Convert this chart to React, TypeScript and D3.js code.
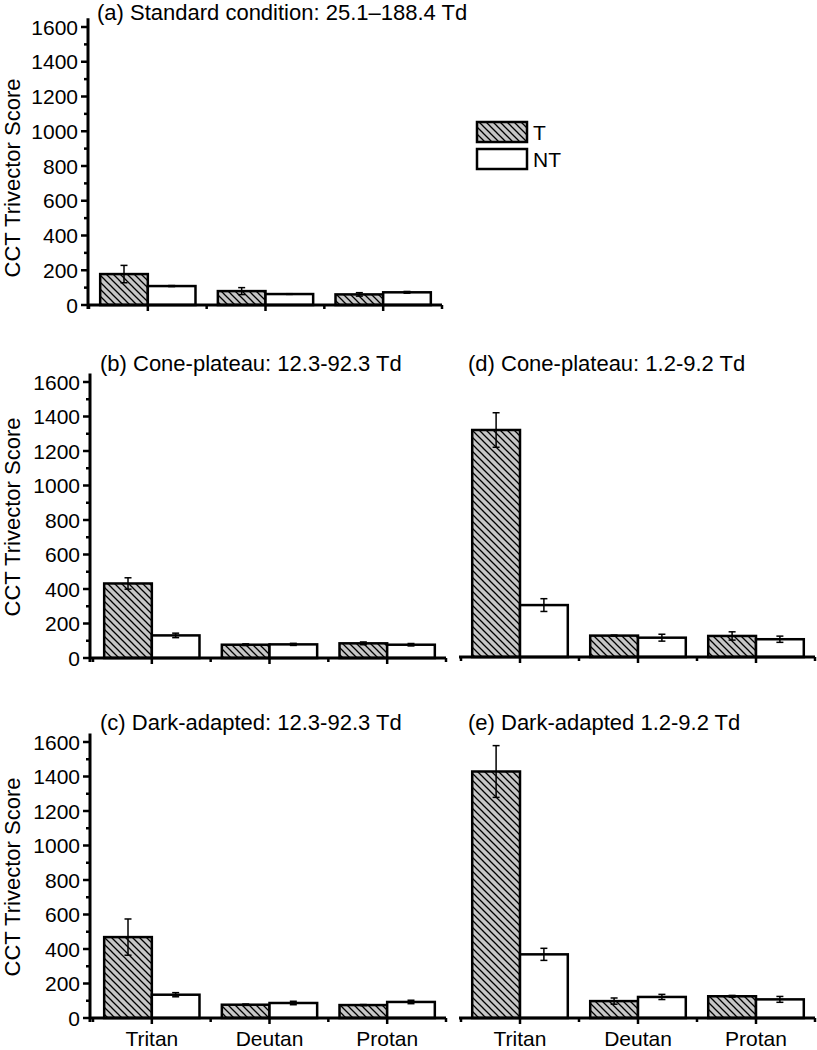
import React from 'react';
import * as d3 from 'd3';

const categories = ['Tritan', 'Deutan', 'Protan'];
const seriesNames = ['T', 'NT'];

// (a) Standard condition
const aT = [178, 80, 61];
const aTerr = [50, 20, 10];
const aNT = [109, 63, 73];
const aNTerr = [3, 2, 5];
// (b) Cone-plateau 12.3-92.3
const bT = [432, 77, 85];
const bTerr = [33, 5, 8];
const bNT = [131, 79, 77];
const bNTerr = [13, 6, 7];
// (c) Dark-adapted 12.3-92.3
const cT = [469, 77, 75];
const cTerr = [105, 4, 3];
const cNT = [135, 87, 93];
const cNTerr = [12, 10, 10];
// (d) Cone-plateau 1.2-9.2
const dT = [1316, 124, 122];
const dTerr = [100, 3, 24];
const dNT = [301, 112, 103];
const dNTerr = [37, 20, 18];
// (e) Dark-adapted 1.2-9.2
const eT = [1429, 98, 126];
const eTerr = [150, 18, 5];
const eNT = [369, 122, 108];
const eNTerr = [35, 15, 17];

const yTicks = [0, 200, 400, 600, 800, 1000, 1200, 1400, 1600];
const yMinorTicks = [100, 300, 500, 700, 900, 1100, 1300, 1500];

const titles = [
  '(a) Standard condition: 25.1\u2013188.4 Td',
  '(b) Cone-plateau: 12.3-92.3 Td',
  '(c) Dark-adapted: 12.3-92.3 Td',
  '(d) Cone-plateau: 1.2-9.2 Td',
  '(e) Dark-adapted 1.2-9.2 Td',
];

const panelData = [
  { T: aT, Terr: aTerr, NT: aNT, NTerr: aNTerr },
  { T: bT, Terr: bTerr, NT: bNT, NTerr: bNTerr },
  { T: cT, Terr: cTerr, NT: cNT, NTerr: cNTerr },
  { T: dT, Terr: dTerr, NT: dNT, NTerr: dNTerr },
  { T: eT, Terr: eTerr, NT: eNT, NTerr: eNTerr },
];

// layout (pixel geometry)
const layout = [
  { x0: 89, x1: 442, axisX: 88, zero: 305, top: 27, yAxis: true, xLabels: false, titleX: 97, titleY: 20, ylabY: 178 },
  { x0: 93, x1: 446, axisX: 90, zero: 658, top: 382, yAxis: true, xLabels: false, titleX: 100, titleY: 371, ylabY: 517 },
  { x0: 93, x1: 446, axisX: 90, zero: 1018, top: 742, yAxis: true, xLabels: true, titleX: 100, titleY: 730, ylabY: 877 },
  { x0: 461, x1: 815, axisX: 460, zero: 657, top: 381, yAxis: false, xLabels: false, titleX: 468, titleY: 371, ylabY: 0 },
  { x0: 461, x1: 815, axisX: 460, zero: 1018, top: 742, yAxis: false, xLabels: true, titleX: 468, titleY: 730, ylabY: 0 },
];

const FONT = "'Liberation Sans', Arial, Helvetica, sans-serif";

function Panel({ idx }: { idx: number }) {
  const L = layout[idx];
  const D = panelData[idx];
  const x = d3.scaleBand<string>().domain(categories).range([L.x0, L.x1]).padding(0);
  const step = x.step();
  const inner = d3.scaleBand<string>().domain(seriesNames).range([0, step * 0.81]).padding(0);
  const y = d3.scaleLinear().domain([0, 1600]).range([L.zero, L.top]);
  const yAxisTop = y(1650);
  const boundaries = d3.range(categories.length + 1).map((i) => L.x0 + i * step);

  return (
    <g>
      <text x={L.titleX} y={L.titleY} fontSize={22} fontFamily={FONT} fill="#000">
        {titles[idx]}
      </text>
      {categories.map((c, i) => {
        const center = (x(c) as number) + step / 2;
        const gx = center - step * 0.405;
        return seriesNames.map((s) => {
          const v = s === 'T' ? D.T[i] : D.NT[i];
          const e = s === 'T' ? D.Terr[i] : D.NTerr[i];
          const bx = gx + (inner(s) as number);
          const bw = inner.bandwidth();
          const cx = bx + bw / 2;
          return (
            <g key={c + s}>
              <rect
                x={bx}
                y={y(v)}
                width={bw}
                height={L.zero - y(v)}
                fill={s === 'T' ? 'url(#hatch)' : '#fff'}
                stroke="#000"
                strokeWidth={2.5}
              />
              <line x1={cx} x2={cx} y1={y(v + e)} y2={y(v - e)} stroke="#000" strokeWidth={1.5} />
              <line x1={cx - 3.5} x2={cx + 3.5} y1={y(v + e)} y2={y(v + e)} stroke="#000" strokeWidth={1.5} />
              <line x1={cx - 3.5} x2={cx + 3.5} y1={y(v - e)} y2={y(v - e)} stroke="#000" strokeWidth={1.5} />
            </g>
          );
        });
      })}
      {/* x axis */}
      <line x1={L.axisX - 1} x2={L.x1} y1={L.zero} y2={L.zero} stroke="#000" strokeWidth={3} />
      {boundaries.map((bx, i) => (
        <line key={'mb' + i} x1={bx} x2={bx} y1={L.zero} y2={L.zero + 4} stroke="#000" strokeWidth={2.5} />
      ))}
      {categories.map((c) => {
        const center = (x(c) as number) + step / 2;
        return (
          <line key={'mt' + c} x1={center} x2={center} y1={L.zero} y2={L.zero + 6} stroke="#000" strokeWidth={2.5} />
        );
      })}
      {L.xLabels &&
        categories.map((c) => {
          const center = (x(c) as number) + step / 2;
          return (
            <text key={'xl' + c} x={center} y={L.zero + 27.5} textAnchor="middle" fontSize={21} fontFamily={FONT} fill="#000">
              {c}
            </text>
          );
        })}
      {L.yAxis && (
        <g>
          <line x1={L.axisX} x2={L.axisX} y1={yAxisTop} y2={L.zero + 4} stroke="#000" strokeWidth={3} />
          {yTicks.map((t) => (
            <g key={'yt' + t}>
              <line x1={L.axisX - 7} x2={L.axisX} y1={y(t)} y2={y(t)} stroke="#000" strokeWidth={2.5} />
              <text x={L.axisX - 10} y={y(t)} dy="0.36em" textAnchor="end" fontSize={21} fontFamily={FONT} fill="#000">
                {t}
              </text>
            </g>
          ))}
          {yMinorTicks.map((t) => (
            <line key={'ym' + t} x1={L.axisX - 4} x2={L.axisX} y1={y(t)} y2={y(t)} stroke="#000" strokeWidth={2.5} />
          ))}
          <text
            transform={`translate(20,${L.ylabY}) rotate(-90)`}
            textAnchor="middle"
            fontSize={22}
            fontFamily={FONT}
            fill="#000"
          >
            CCT Trivector Score
          </text>
        </g>
      )}
    </g>
  );
}

export default function App() {
  return (
    <svg
      width={817}
      height={1050}
      style={{ position: 'absolute', left: 0, top: 0, background: '#fff' }}
      xmlns="http://www.w3.org/2000/svg"
    >
      <defs>
        <pattern id="hatch" patternUnits="userSpaceOnUse" width={7} height={7}>
          <rect width={7} height={7} fill="#c6c6c6" />
          <path d="M-1,-1 L8,8 M-1,6 L1,8 M6,-1 L8,1" stroke="#000" strokeWidth={1.3} />
        </pattern>
      </defs>
      <rect width={817} height={1050} fill="#fff" />
      {layout.map((_, i) => (
        <Panel key={i} idx={i} />
      ))}
      {/* legend */}
      <g>
        <rect x={477} y={122} width={50} height={20} fill="url(#hatch)" stroke="#000" strokeWidth={2.5} />
        <text x={533} y={132} dy="0.36em" fontSize={21} fontFamily={FONT} fill="#000">
          {seriesNames[0]}
        </text>
        <rect x={477} y={149} width={50} height={20} fill="#fff" stroke="#000" strokeWidth={2.5} />
        <text x={533} y={159} dy="0.36em" fontSize={21} fontFamily={FONT} fill="#000">
          {seriesNames[1]}
        </text>
      </g>
    </svg>
  );
}
